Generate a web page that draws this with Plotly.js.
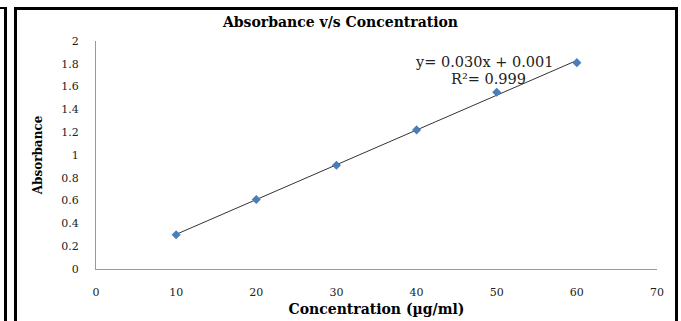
<!DOCTYPE html>
<html>
<head>
<meta charset="utf-8">
<script src="https://cdn.plot.ly/plotly-3.0.1.min.js"></script>
<style>
html,body{margin:0;padding:0;background:#fff;}
#wrap{position:relative;width:681px;height:321px;overflow:hidden;}
#chart{position:absolute;left:0;top:0;width:681px;height:321px;}
.b{position:absolute;background:#000;}
</style>
</head>
<body>
<div id="wrap">
<div id="chart"></div>
<div class="b" style="left:0;top:7px;width:6px;height:2px;"></div>
<div class="b" style="left:4px;top:7px;width:3px;height:314px;"></div>
<div class="b" style="left:14px;top:7px;width:663px;height:3px;"></div>
<div class="b" style="left:14px;top:7px;width:3px;height:314px;"></div>
<div class="b" style="left:675px;top:7px;width:3px;height:314px;"></div>
</div>
<script>
const concentration = [10, 20, 30, 40, 50, 60];
const absorbance = [0.30, 0.61, 0.91, 1.22, 1.55, 1.81];
const equationText = "y= 0.030x + 0.001";
const r2Text = "R²= 0.999";
const xTicks = [0, 10, 20, 30, 40, 50, 60, 70];
const yTicks = [0, 0.2, 0.4, 0.6, 0.8, 1, 1.2, 1.4, 1.6, 1.8, 2];

// least-squares trendline from the data
const n = concentration.length;
const mx = concentration.reduce((a, b) => a + b, 0) / n;
const my = absorbance.reduce((a, b) => a + b, 0) / n;
let sxy = 0, sxx = 0;
for (let i = 0; i < n; i++) {
  sxy += (concentration[i] - mx) * (absorbance[i] - my);
  sxx += (concentration[i] - mx) ** 2;
}
const slope = sxy / sxx;
const intercept = my - slope * mx;
const lineX = [concentration[0], concentration[n - 1]];
const lineY = lineX.map(x => slope * x + intercept);

const serif = "DejaVu Serif, serif";

const traces = [
  {x: lineX, y: lineY, mode: "lines", line: {color: "#333", width: 1}, hoverinfo: "skip"},
  {x: concentration, y: absorbance, mode: "markers",
   marker: {symbol: "diamond", size: 7, color: "#4a7ebb"}}
];

const layout = {
  width: 681, height: 321,
  margin: {l: 96, r: 24, t: 41, b: 52},
  paper_bgcolor: "rgba(0,0,0,0)", plot_bgcolor: "rgba(0,0,0,0)",
  showlegend: false,
  title: {text: "<b>Absorbance v/s Concentration</b>", x: 0.5, xanchor: "center",
          y: 0.93, yanchor: "middle",
          font: {family: serif, size: 14, color: "#000"}},
  xaxis: {range: [0, 70], tickvals: xTicks, ticktext: xTicks.map(String),
          showgrid: false, zeroline: false, showline: true, linecolor: "#999", linewidth: 1,
          ticks: "", ticklabelstandoff: 13,
          tickfont: {family: serif, size: 11, color: "#222"},
          title: {text: "<b>Concentration (µg/ml)</b>", standoff: 5,
                  font: {family: serif, size: 14, color: "#000"}}},
  yaxis: {range: [0, 2], tickvals: yTicks, ticktext: yTicks.map(String),
          showgrid: false, zeroline: false, showline: true, linecolor: "#999", linewidth: 1,
          ticks: "", ticklabelstandoff: 14,
          tickfont: {family: serif, size: 11, color: "#222"},
          title: {text: "<b>Absorbance</b>", standoff: 16,
                  font: {family: serif, size: 12, color: "#000"}}},
  annotations: [
    {x: 0.693, y: 0.908, xref: "paper", yref: "paper", text: equationText, showarrow: false,
     xanchor: "center", yanchor: "middle", font: {family: serif, size: 14.5, color: "#222"}},
    {x: 0.699, y: 0.833, xref: "paper", yref: "paper", text: r2Text, showarrow: false,
     xanchor: "center", yanchor: "middle", font: {family: serif, size: 14.5, color: "#222"}}
  ]
};

Plotly.newPlot("chart", traces, layout, {displayModeBar: false, staticPlot: true});
</script>
</body>
</html>
